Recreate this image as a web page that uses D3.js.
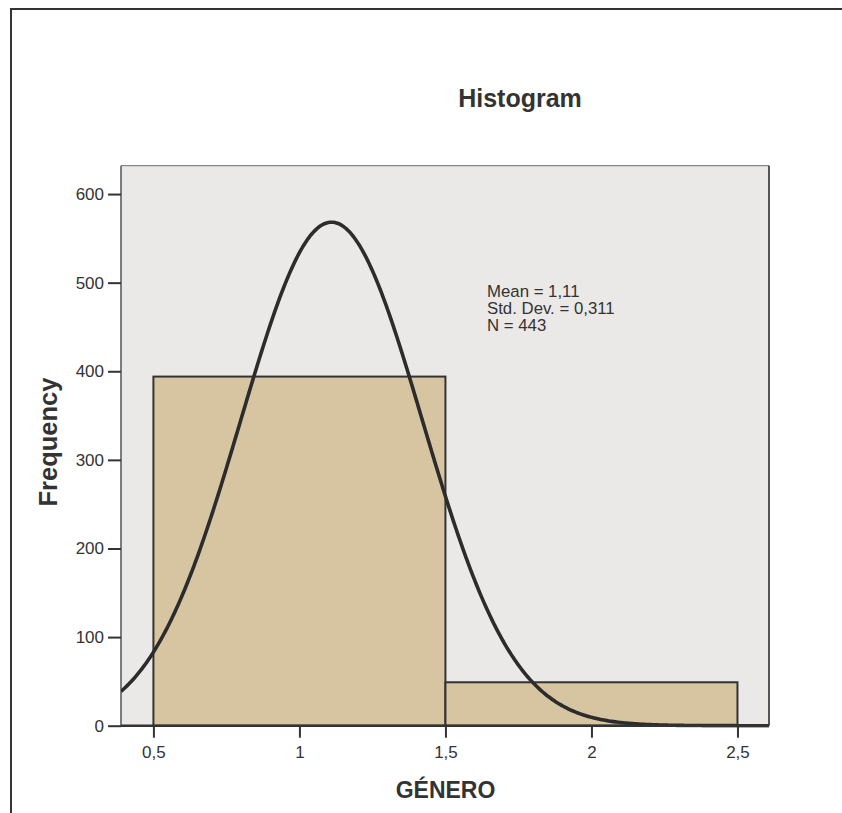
<!DOCTYPE html>
<html>
<head>
<meta charset="utf-8">
<script src="https://cdn.jsdelivr.net/npm/d3@7"></script>
<style>
  html, body { margin: 0; padding: 0; background: #fff; }
  svg { display: block; }
  text { font-family: "Liberation Sans", Arial, Helvetica, sans-serif; fill: #333; }
</style>
</head>
<body>
<svg id="chart" width="842" height="813"></svg>
<script>
// ---- data ----
const binStarts = [0.5, 1.5];
const binEnds = [1.5, 2.5];
const frequencies = [394, 49];
const stats = { mean: 1.11, sd: 0.311, n: 443 };
const statLines = ["Mean = 1,11", "Std. Dev. = 0,311", "N = 443"];
const xTickValues = [0.5, 1, 1.5, 2, 2.5];
const xTickLabels = ["0,5", "1", "1,5", "2", "2,5"];
const yTickValues = [0, 100, 200, 300, 400, 500, 600];
const xDomain = [0.389, 2.608];
const yDomain = [0, 632];

const svg = d3.select("#chart");
const pLeft = 121, pRight = 769, pTop = 165.7, pBottom = 725.7;

const x = d3.scaleLinear().domain(xDomain).range([pLeft, pRight]);
const y = d3.scaleLinear().domain(yDomain).range([pBottom, pTop]);

// outer frame
svg.append("path")
  .attr("d", `M11,813 L11,9 L842,9`)
  .attr("fill", "none").attr("stroke", "#333").attr("stroke-width", 2);

// title
svg.append("text").attr("x", 520).attr("y", 106.5)
  .attr("text-anchor", "middle").attr("font-size", 25).attr("font-weight", "bold")
  .text("Histogram");

// plot background
svg.append("rect").attr("x", pLeft).attr("y", pTop)
  .attr("width", pRight - pLeft).attr("height", pBottom - pTop)
  .attr("fill", "#ebe9e7");
svg.append("line").attr("x1", pLeft).attr("x2", pRight).attr("y1", pTop).attr("y2", pTop)
  .attr("stroke", "#888").attr("stroke-width", 1.2);
svg.append("line").attr("x1", pRight).attr("x2", pRight).attr("y1", pTop).attr("y2", pBottom)
  .attr("stroke", "#555").attr("stroke-width", 2);
svg.append("line").attr("x1", pLeft).attr("x2", pLeft).attr("y1", pTop).attr("y2", pBottom)
  .attr("stroke", "#555").attr("stroke-width", 1.5);

// bars
const bins = frequencies.map((f, i) => ({ x0: binStarts[i], x1: binEnds[i], f }));
svg.append("g").selectAll("rect").data(bins).join("rect")
  .attr("x", d => x(d.x0)).attr("y", d => y(d.f))
  .attr("width", d => x(d.x1) - x(d.x0)).attr("height", d => y(0) - y(d.f))
  .attr("fill", "#d6c5a0").attr("stroke", "#333").attr("stroke-width", 2);

// normal curve (fitted from mean, sd, n; bin width 1)
const binWidth = binEnds[0] - binStarts[0];
const pdf = v => stats.n * binWidth * Math.exp(-0.5 * Math.pow((v - stats.mean) / stats.sd, 2)) / (stats.sd * Math.sqrt(2 * Math.PI));
const curveXs = d3.range(0, 401).map(i => xDomain[0] + (xDomain[1] - xDomain[0]) * i / 400);
svg.append("clipPath").attr("id", "plotclip").append("rect")
  .attr("x", pLeft).attr("y", pTop).attr("width", pRight - pLeft + 2).attr("height", pBottom - pTop + 2);
svg.append("path")
  .datum(curveXs)
  .attr("clip-path", "url(#plotclip)")
  .attr("d", d3.line().x(d => x(d)).y(d => y(pdf(d))).curve(d3.curveBasis))
  .attr("fill", "none").attr("stroke", "#2c2c2c").attr("stroke-width", 3.6);

// bottom axis line
svg.append("line").attr("x1", pLeft).attr("x2", pRight).attr("y1", pBottom).attr("y2", pBottom)
  .attr("stroke", "#333").attr("stroke-width", 2.4);

// y axis
const yAxis = svg.append("g").attr("transform", `translate(${pLeft},0)`)
  .call(d3.axisLeft(y).tickValues(yTickValues).tickSize(13).tickPadding(4));
yAxis.select(".domain").remove();
yAxis.selectAll("line").attr("stroke", "#333").attr("stroke-width", 2);
yAxis.selectAll("text").attr("font-size", 17).attr("fill", "#333")
  .style("font-family", '"Liberation Sans", Arial, sans-serif');

// x axis
const xAxis = svg.append("g").attr("transform", `translate(0,${pBottom})`)
  .call(d3.axisBottom(x).tickValues(xTickValues).tickSize(12).tickPadding(8)
    .tickFormat((d, i) => xTickLabels[i]));
xAxis.select(".domain").remove();
xAxis.selectAll("line").attr("stroke", "#333").attr("stroke-width", 2);
xAxis.selectAll("text").attr("font-size", 17).attr("fill", "#333")
  .style("font-family", '"Liberation Sans", Arial, sans-serif');

// axis titles
svg.append("text").attr("x", 445.5).attr("y", 798)
  .attr("text-anchor", "middle").attr("font-size", 23).attr("font-weight", "bold")
  .text("GÉNERO");
svg.append("text").attr("transform", "translate(57,442) rotate(-90)")
  .attr("text-anchor", "middle").attr("font-size", 25.5).attr("font-weight", "bold")
  .text("Frequency");

// stats text
svg.append("g").selectAll("text").data(statLines).join("text")
  .attr("x", 487).attr("y", (d, i) => 296.5 + i * 17.2)
  .attr("font-size", 16.8)
  .text(d => d);
</script>
</body>
</html>
